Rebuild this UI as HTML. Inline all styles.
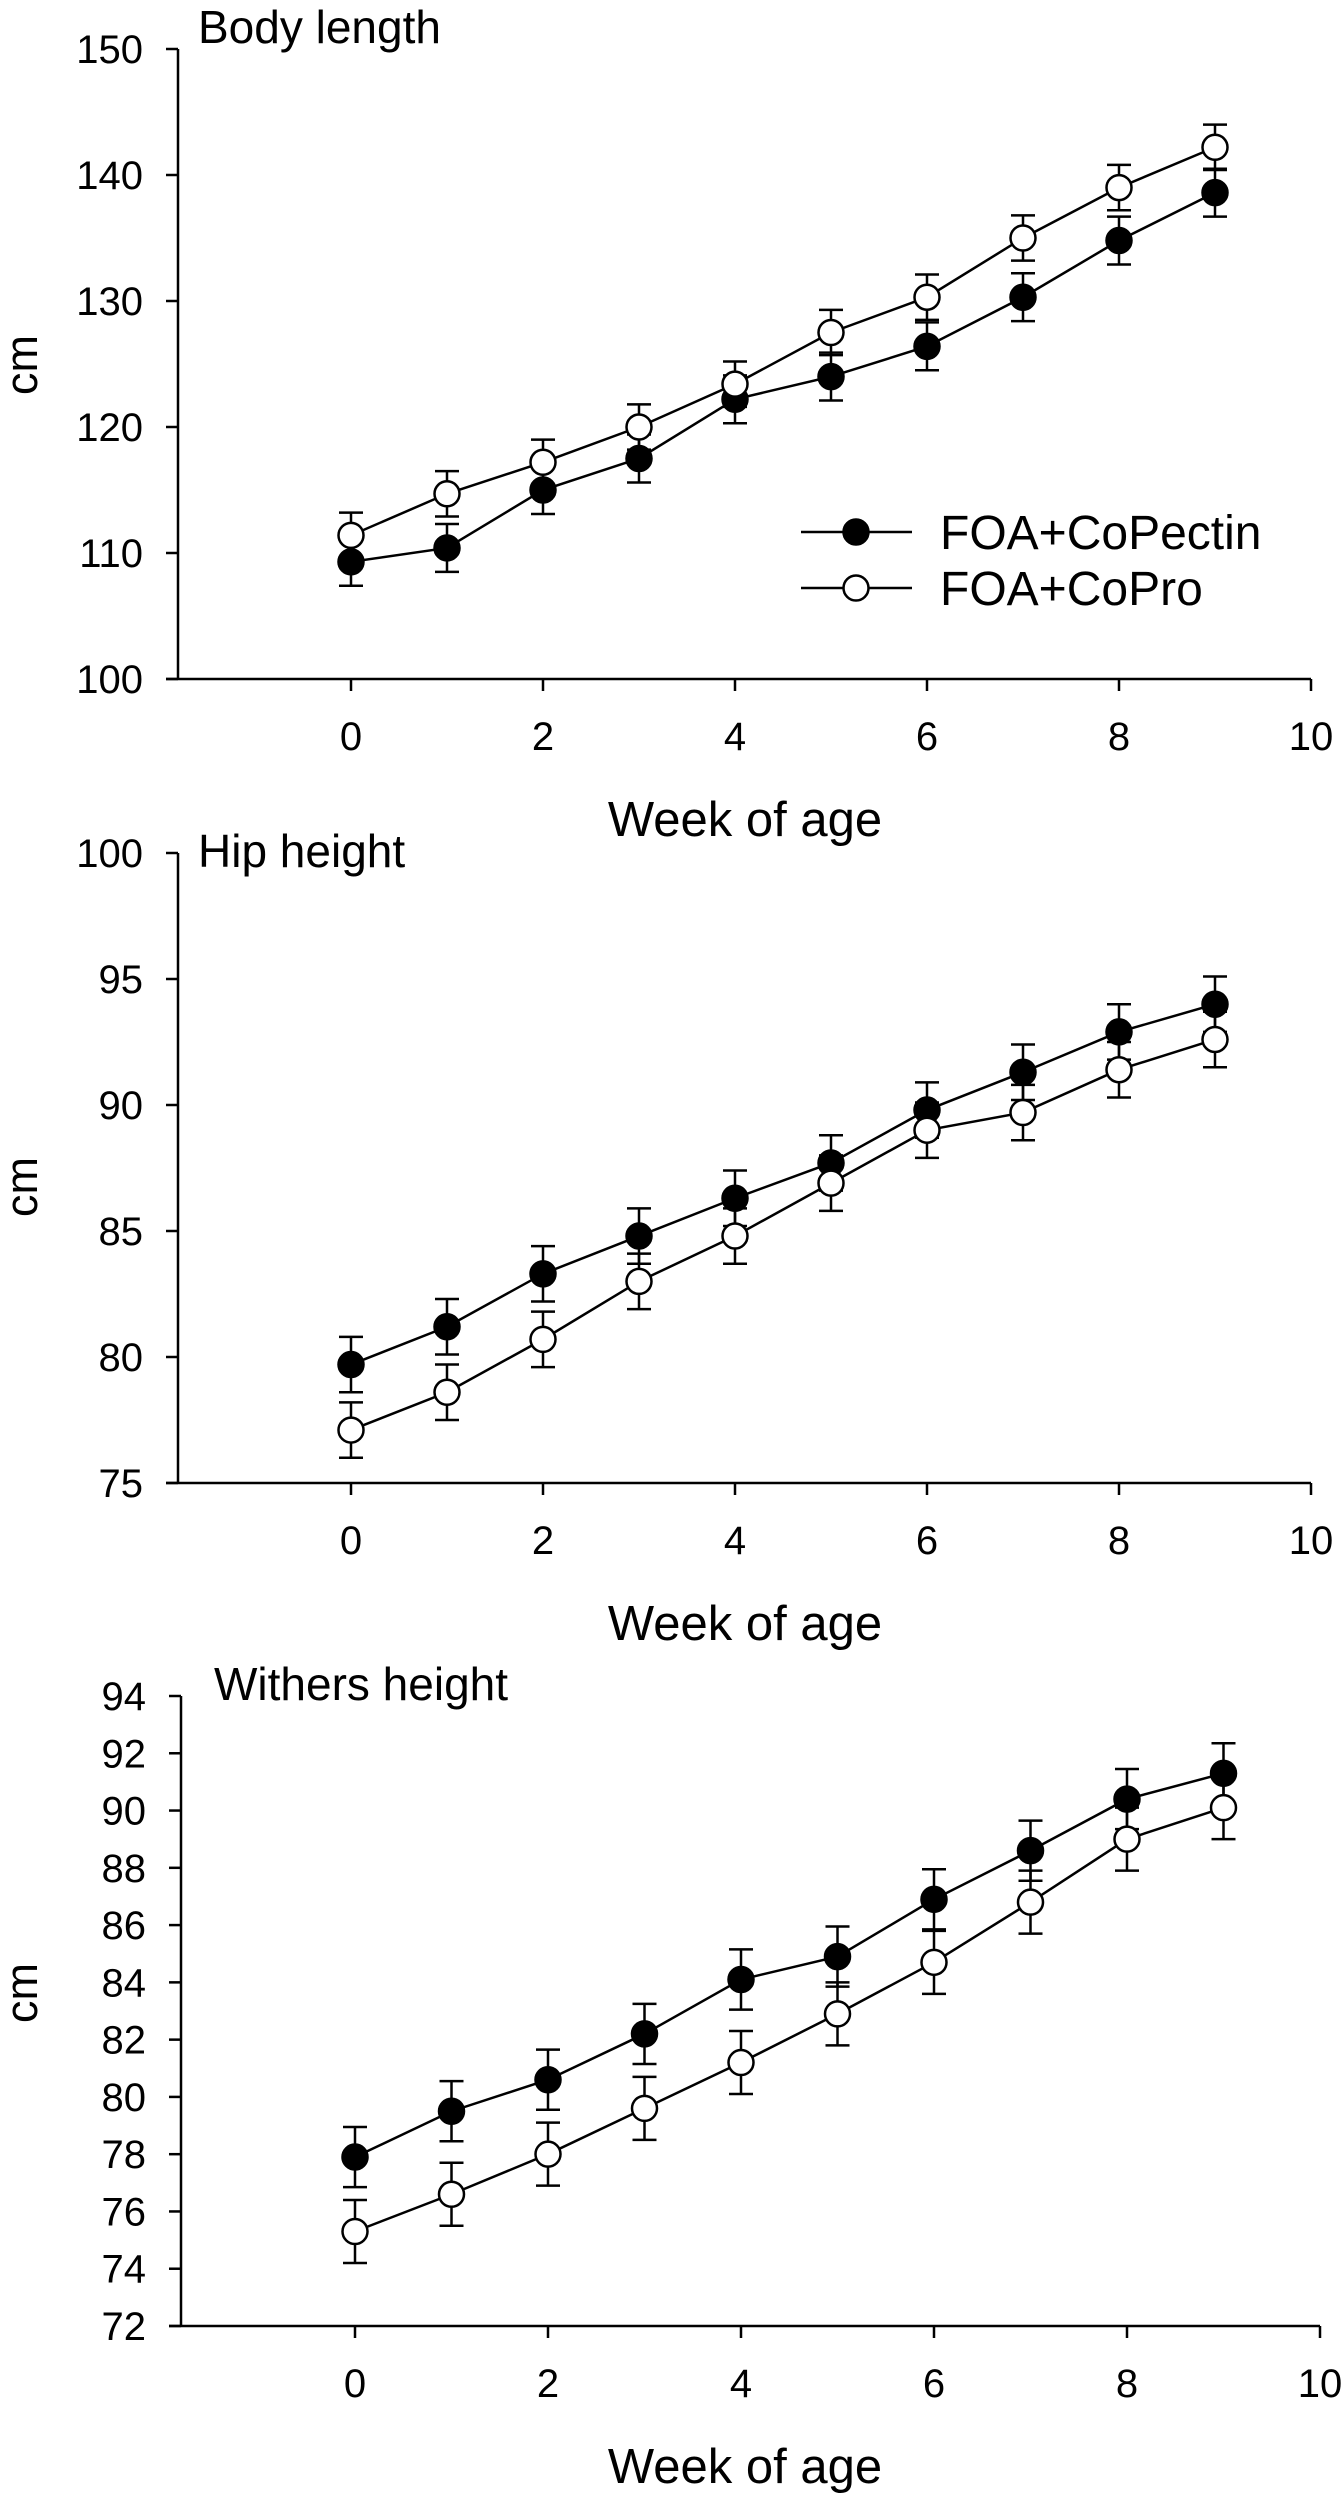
<!DOCTYPE html>
<html><head><meta charset="utf-8"><style>
html,body{margin:0;padding:0;background:#fff}
svg{display:block}
text{font-family:"Liberation Sans",Arial,sans-serif;fill:#000}
</style></head>
<body>
<svg id="chart" width="1343" height="2500" viewBox="0 0 1343 2500" xmlns="http://www.w3.org/2000/svg"></svg>
<script>
const weeks = [0,1,2,3,4,5,6,7,8,9];
const xTicks = [0,2,4,6,8,10];
const bodyPectin = [109.3,110.4,115.0,117.5,122.2,124.0,126.4,130.3,134.8,138.6];
const bodyPectinErr = [1.9,1.9,1.9,1.9,1.9,1.9,1.9,1.9,1.9,1.9];
const bodyPro = [111.4,114.7,117.2,120.0,123.4,127.5,130.3,135.0,139.0,142.2];
const bodyProErr = [1.8,1.8,1.8,1.8,1.8,1.8,1.8,1.8,1.8,1.8];
const bodyTicks = [100,110,120,130,140,150];
const hipPectin = [79.7,81.2,83.3,84.8,86.3,87.7,89.8,91.3,92.9,94.0];
const hipPectinErr = [1.1,1.1,1.1,1.1,1.1,1.1,1.1,1.1,1.1,1.1];
const hipPro = [77.1,78.6,80.7,83.0,84.8,86.9,89.0,89.7,91.4,92.6];
const hipProErr = [1.1,1.1,1.1,1.1,1.1,1.1,1.1,1.1,1.1,1.1];
const hipTicks = [75,80,85,90,95,100];
const withPectin = [77.9,79.5,80.6,82.2,84.1,84.9,86.9,88.6,90.4,91.3];
const withPectinErr = [1.05,1.05,1.05,1.05,1.05,1.05,1.05,1.05,1.05,1.05];
const withPro = [75.3,76.6,78.0,79.6,81.2,82.9,84.7,86.8,89.0,90.1];
const withProErr = [1.1,1.1,1.1,1.1,1.1,1.1,1.1,1.1,1.1,1.1];
const withTicks = [72,74,76,78,80,82,84,86,88,90,92,94];

const NS='http://www.w3.org/2000/svg';
const svg=document.getElementById('chart');
function mk(tag,attrs,parent){const e=document.createElementNS(NS,tag);for(const k in attrs)e.setAttribute(k,attrs[k]);(parent||svg).appendChild(e);return e;}

const panels=[
 {name:'body-length',title:'Body length',titleX:198,titleY:43,top:49,bottom:679,axX:178,x0:351,unit:96,ymin:100,ymax:150,ticks:bodyTicks,
  s1:bodyPectin,e1:bodyPectinErr,s2:bodyPro,e2:bodyProErr,cmY:365,legend:true},
 {name:'hip-height',title:'Hip height',titleX:198,titleY:867,top:853,bottom:1483,axX:178,x0:351,unit:96,ymin:75,ymax:100,ticks:hipTicks,
  s1:hipPectin,e1:hipPectinErr,s2:hipPro,e2:hipProErr,cmY:1187,legend:false},
 {name:'withers-height',title:'Withers height',titleX:214,titleY:1700,top:1696,bottom:2326,axX:181,x0:355,unit:96.5,ymin:72,ymax:94,ticks:withTicks,
  s1:withPectin,e1:withPectinErr,s2:withPro,e2:withProErr,cmY:1993,legend:false}
];

panels.forEach(p=>{
  const g=mk('g',{});
  
  
  const X=v=>p.x0+v*p.unit;
  const Y=v=>p.bottom-(v-p.ymin)/(p.ymax-p.ymin)*(p.bottom-p.top);
  const xEnd=X(10);
  const ya=mk('line',{x1:p.axX,y1:p.top,x2:p.axX,y2:p.bottom,stroke:'#000','stroke-width':2.5},g);
  
  
  const xa=mk('line',{x1:p.axX-12,y1:p.bottom,x2:xEnd,y2:p.bottom,stroke:'#000','stroke-width':2.5},g);
  
  
  p.ticks.forEach(t=>{
    mk('line',{x1:p.axX-12,y1:Y(t),x2:p.axX,y2:Y(t),stroke:'#000','stroke-width':2.5},g);
    const tl=mk('text',{x:p.axX-35,y:Y(t)+14,'text-anchor':'end','font-size':40},g);
    tl.textContent=t;
    
    
  });
  xTicks.forEach(t=>{
    mk('line',{x1:X(t),y1:p.bottom,x2:X(t),y2:p.bottom+12,stroke:'#000','stroke-width':2.5},g);
    const tl=mk('text',{x:X(t),y:p.bottom+71,'text-anchor':'middle','font-size':40},g);
    tl.textContent=t;
    
    
  });
  const xt=mk('text',{x:745,y:p.bottom+157,'text-anchor':'middle','font-size':49},g);
  xt.textContent='Week of age';
  
  
  const yt=mk('text',{x:0,y:0,'text-anchor':'middle','font-size':45,transform:`translate(37,${p.cmY}) rotate(-90)`},g);
  yt.textContent='cm';
  
  
  const tt=mk('text',{x:p.titleX,y:p.titleY,'font-size':46},g);
  tt.textContent=p.title;
  
  

  function series(vals,errs,fill,sname){
    const sg=mk('g',{},g);
    
    
    let d='';
    weeks.forEach((w,i)=>{d+=(i?'L':'M')+X(w)+' '+Y(vals[i]);});
    mk('path',{d:d,fill:'none',stroke:'#000','stroke-width':2.5},sg);
    weeks.forEach((w,i)=>{
      const cx=X(w),hi=Y(vals[i]+errs[i]),lo=Y(vals[i]-errs[i]);
      const eb=mk('path',{d:`M${cx} ${hi}L${cx} ${lo}M${cx-12} ${hi}L${cx+12} ${hi}M${cx-12} ${lo}L${cx+12} ${lo}`,stroke:'#000','stroke-width':2.5,fill:'none'},sg);
      
      
    });
    weeks.forEach((w,i)=>{
      const c=mk('circle',{cx:X(w),cy:Y(vals[i]),r:12.5,fill:fill,stroke:'#000','stroke-width':2.5},sg);
      
      
    });
  }
  series(p.s1,p.e1,'#000','series-foa-copectin');
  series(p.s2,p.e2,'#fff','series-foa-copro');

  if(p.legend){
    const lg=mk('g',{},g);
    
    
    [['FOA+CoPectin','#000',532],['FOA+CoPro','#fff',588]].forEach(([lab,f,y])=>{
      const e=mk('g',{},lg);
      
      
      mk('line',{x1:801,y1:y,x2:912,y2:y,stroke:'#000','stroke-width':2.5},e);
      mk('circle',{cx:856,cy:y,r:12.5,fill:f,stroke:'#000','stroke-width':2.5},e);
      const t=mk('text',{x:940,y:y+17,'font-size':48},e);
      t.textContent=lab;
    });
  }
});
</script>
</body></html>
